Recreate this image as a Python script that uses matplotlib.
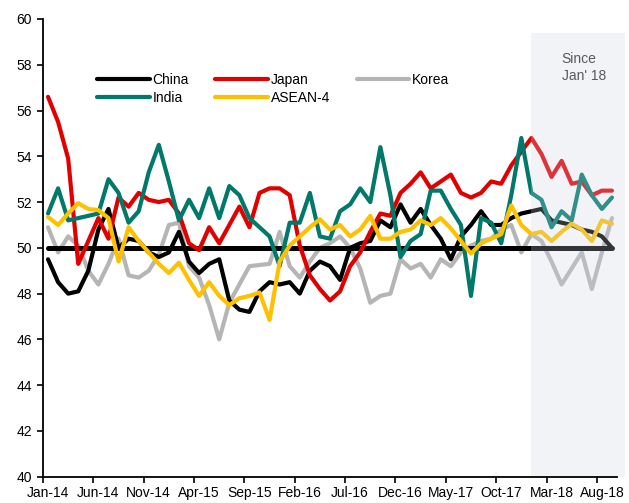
import numpy as np
import matplotlib
matplotlib.use('Agg')
import matplotlib.pyplot as plt
from matplotlib.patches import Rectangle

plt.rcParams['font.family'] = ['Liberation Sans', 'DejaVu Sans']

# Monthly PMI, Jan-14 .. Sep-18
china = [49.5, 48.5, 48.0, 48.1, 49.0, 50.8, 51.7, 50.0, 50.4, 50.3,
         49.8, 49.6, 49.8, 50.7, 49.4, 48.9, 49.3, 49.5, 47.7, 47.3,
         47.2, 48.1, 48.5, 48.4, 48.5, 48.0, 49.0, 49.4, 49.2, 48.6,
         50.0, 50.2, 50.3, 51.2, 50.9, 51.9, 51.1, 51.7, 51.0, 50.4,
         49.5, 50.5, 51.0, 51.6, 51.0, 51.0, 51.3, 51.5, 51.6, 51.7,
         51.2, 51.1, 51.0, 50.8, 50.7, 50.5, 50.0]
japan = [56.6, 55.5, 53.9, 49.3, 50.3, 51.3, 50.4, 52.2, 51.8, 52.4,
         52.1, 52.0, 52.1, 51.5, 50.2, 49.9, 50.9, 50.2, 51.0, 51.8,
         50.9, 52.4, 52.6, 52.6, 52.3, 50.1, 48.8, 48.2, 47.7, 48.1,
         49.2, 49.8, 50.7, 51.5, 51.4, 52.4, 52.8, 53.3, 52.6, 52.9,
         53.2, 52.4, 52.2, 52.4, 52.9, 52.8, 53.6, 54.2, 54.8, 54.1,
         53.1, 53.8, 52.8, 52.9, 52.3, 52.5, 52.5]
korea = [50.9, 49.8, 50.5, 50.1, 49.0, 48.4, 49.3, 50.4, 48.8, 48.7,
         49.0, 49.7, 51.0, 51.1, 49.2, 48.7, 47.5, 46.0, 47.6, 48.4,
         49.2, 49.25, 49.3, 50.7, 49.2, 48.7, 49.4, 50.0, 50.2, 50.5,
         50.0, 49.1, 47.6, 47.9, 48.0, 49.5, 49.1, 49.3, 48.7, 49.5,
         49.2, 49.8, 50.1, 50.3, 50.4, 50.8, 51.0, 49.8, 50.6, 50.3,
         49.4, 48.4, 49.1, 49.8, 48.2, 49.8, 51.3]
india = [51.5, 52.6, 51.2, 51.3, 51.4, 51.5, 53.0, 52.4, 51.1, 51.6,
         53.3, 54.5, 52.9, 51.2, 52.1, 51.3, 52.6, 51.3, 52.7, 52.3,
         51.3, 50.9, 50.5, 49.2, 51.1, 51.1, 52.4, 50.5, 50.4, 51.6,
         51.9, 52.6, 52.0, 54.4, 52.3, 49.6, 50.3, 50.6, 52.5, 52.5,
         51.7, 51.0, 47.9, 51.3, 51.1, 50.2, 52.3, 54.8, 52.4, 52.1,
         50.9, 51.6, 51.2, 53.2, 52.3, 51.7, 52.2]
asean4 = [51.35, 51.0, 51.5, 51.95, 51.7, 51.65, 51.3, 49.4, 50.9, 50.3,
          49.8, 49.3, 48.9, 49.35, 48.6, 47.9, 48.5, 47.9, 47.5, 47.8,
          47.9, 48.05, 46.85, 49.4, 50.1, 50.5, 50.9, 51.25, 50.8, 51.0,
          50.5, 50.8, 51.4, 50.4, 50.4, 50.7, 50.8, 51.2, 51.0, 51.3,
          50.85, 50.3, 49.75, 50.2, 50.4, 50.6, 51.85, 51.0, 50.6, 50.7,
          50.3, 50.7, 51.05, 50.8, 50.3, 51.2, 51.05]
threshold = 50

tick_labels = ['Jan-14', 'Jun-14', 'Nov-14', 'Apr-15', 'Sep-15', 'Feb-16',
               'Jul-16', 'Dec-16', 'May-17', 'Oct-17', 'Mar-18', 'Aug-18']
since_start = 48  # Jan-18

x = np.arange(len(china))

fig = plt.figure(figsize=(6.29, 5.03), dpi=100)
ax = fig.add_axes([43 / 629, 1 - 476.7 / 503, 574 / 629, 457.7 / 503])

kw = dict(lw=3, solid_capstyle='round', solid_joinstyle='round')
l_korea, = ax.plot(x, korea, color='#b5b5b5', label='Korea', zorder=2, **kw)
ax.plot([x[0], x[-1]], [threshold, threshold], color='black', lw=3.6,
        solid_capstyle='round', zorder=3)
l_china, = ax.plot(x, china, color='black', label='China', zorder=4, **kw)
l_japan, = ax.plot(x, japan, color='#e10000', label='Japan', zorder=5, **kw)
l_india, = ax.plot(x, india, color='#00796b', label='India', zorder=6, **kw)
l_asean, = ax.plot(x, asean4, color='#ffc000', label='ASEAN-4', zorder=7, **kw)

# shaded "since Jan'18" window
ax.add_patch(Rectangle((since_start, 40), 57.3 - since_start, 19.4,
                       facecolor=(207 / 255, 211 / 255, 227 / 255), alpha=0.25,
                       lw=0, zorder=10, clip_on=False))
ax.text(51.0, 58.55, "Since\nJan' 18", ha='left', va='top', fontsize=10,
        color='#595959', linespacing=1.3, zorder=11)

ax.set_xlim(-0.5, len(x) - 0.5)
ax.set_ylim(40, 60)
ax.set_yticks(np.arange(40, 61, 2))
ax.set_xticks(np.arange(0, len(x), 5))
ax.set_xticklabels(tick_labels)
ax.set_xticks(np.arange(-0.5, len(x), 5), minor=True)
ax.tick_params(axis='x', which='major', length=0, pad=7, labelsize=10)
ax.tick_params(axis='x', which='minor', length=4, width=1.2, direction='out')
ax.tick_params(axis='y', length=4, width=1.2, direction='out', pad=4, labelsize=10)

for s in ['top', 'right']:
    ax.spines[s].set_visible(False)
for s in ['left', 'bottom']:
    ax.spines[s].set_linewidth(1.3)
    ax.spines[s].set_zorder(12)

ax.legend(handles=[l_china, l_india, l_japan, l_asean, l_korea], ncol=3,
          loc='upper left', bbox_to_anchor=(0.094, 0.882), frameon=False,
          fontsize=10, handlelength=3.8, handletextpad=0.2, columnspacing=1.9,
          labelspacing=0.3, borderpad=0, borderaxespad=0)

fig.savefig('out.png', dpi=100)
